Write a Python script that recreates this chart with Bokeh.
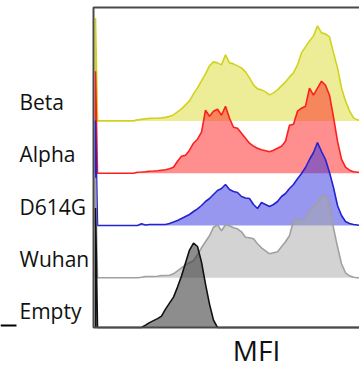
from bokeh.plotting import figure
from bokeh.models import Range1d, Label
from bokeh.embed import file_html
from bokeh.resources import INLINE

# ---- data (histogram heights per MFI bin) ----
samples = ["Beta", "Alpha", "D614G", "Wuhan", "Empty"]

beta = [0, 0, 0, 0, 0, 0, 0, 0, 0, 0,
        1, 1.5, 2, 2.5, 2.7, 2.7, 3, 3.5, 4.5, 6,
        9, 12, 16, 20, 27, 33, 40, 47, 55, 59,
        58, 56, 66, 58, 57, 55, 53, 49, 43, 36,
        32, 31, 29, 26, 28, 31, 35, 39, 44, 48,
        56, 68, 74, 80, 85, 95, 88, 87, 84, 68,
        53, 33, 20, 10, 3, 1, 0.5]

alpha = [0, 0, 0, 0, 0, 0, 0, 0, 0, 0,
         1, 1.2, 1.5, 2, 2.2, 2.5, 3, 3.5, 4.5, 6,
         12, 17, 18, 23, 30, 34, 41, 63, 57, 62,
         64, 58, 67, 55, 46, 45, 40, 35, 30, 27,
         25, 23.5, 22.5, 21.5, 23, 25, 27, 32, 48, 49,
         62, 65, 67, 85, 78, 85, 92, 88, 78, 56,
         32, 14, 6, 3, 1.5, 1, 0.5]

d614g = [0, 0, 0, 0, 0, 0, 0, 0, 0, 0,
         0, 1.7, 0.5, 1, 1, 1, 1, 1, 2, 3.5,
         5, 7, 9, 11, 14, 16.7, 20, 24, 27, 31,
         35, 37, 41, 36, 34, 33, 29, 27.5, 27, 21,
         17, 23, 21, 19, 21, 24, 29, 32, 37, 41,
         46.7, 52, 58, 66, 73, 83, 74, 66, 53, 38,
         20, 10, 4, 2, 1, 0.5, 0]

wuhan = [0, 0, 0, 0, 0, 0, 0, 0, 0, 0,
         0, 0.5, 1.3, 1.3, 1.3, 1.5, 2.3, 2.3, 2.5, 4,
         7, 10, 13, 15, 17, 23, 30, 36, 42, 50.6,
         53, 47, 53, 52, 50, 49, 46, 40.6, 40, 39,
         34, 30, 27, 24, 25, 26, 31, 36, 42, 57,
         59, 57, 60, 66, 71, 75, 81, 82, 72, 50,
         31, 14, 5, 2, 0.5, 0, 0]

empty = [0, 0, 0, 0, 0, 0, 0, 0, 0, 0,
         0, 2.5, 5, 7.5, 9.5, 11.5, 14, 21, 27, 33,
         43, 54, 67, 80, 87, 83.6, 68, 46, 26, 10,
         2.3, 0.5, 0, 0, 0, 0, 0, 0, 0, 0,
         0, 0, 0, 0, 0, 0, 0, 0, 0, 0,
         0, 0, 0, 0, 0, 0, 0, 0, 0, 0,
         0, 0, 0, 0, 0, 0, 0]

# events piled up in the lowest (off-scale) channel
zero_channel = [103, 102, 105, 100, 122]

series = [beta, alpha, d614g, wuhan, empty]
line_colors = ["#D2D21E", "#FF1E1E", "#2323D2", "#A0A0A0", "#111111"]
fill_colors = ["#DCDC30", "#FF2020", "#3030E0", "#A8A8A8", "#303030"]
fill_alphas = [0.5, 0.5, 0.5, 0.5, 0.55]

bins = list(range(len(beta)))
ZERO_BIN = -0.5
ROW_SPACING = 52.3
ROW_BASE = -2.6
X_LO, X_HI = -1, 65.5      # histogram panel extent (MFI bins)
Y_LO, Y_HI = 0, 320        # histogram panel extent

p = figure(width=359, height=368, output_backend="svg", toolbar_location=None,
           x_range=Range1d(-24.25, 65.5), y_range=Range1d(-41, 327),
           x_axis_location=None, y_axis_location=None,
           min_border=0)
p.outline_line_color = None
p.grid.visible = False
p.background_fill_color = "white"
p.border_fill_color = "white"

n = len(samples)
for k, (name, h) in enumerate(zip(samples, series)):
    row = n - 1 - k
    off = ROW_BASE + ROW_SPACING * row
    floor = max(off, Y_LO)
    xs = [ZERO_BIN] + bins
    top = [max(off + zero_channel[k], floor)] + [max(off + v, floor) for v in h]
    p.varea(x=xs, y1=[floor] * len(xs), y2=top,
            fill_color=fill_colors[k], fill_alpha=fill_alphas[k])
    p.line(x=[ZERO_BIN] + xs, y=[floor] + top,
           line_color=line_colors[k], line_width=1.6)
    p.add_layout(Label(x=-19.5, y=off + 19, text=name,
                       text_font="Open Sans", text_font_size="21px",
                       text_color="#111111", text_align="left",
                       text_baseline="alphabetic"))

# panel frame: top, left, bottom edges
p.line(x=[X_HI, X_LO, X_LO, X_HI], y=[Y_HI, Y_HI, Y_LO, Y_LO],
       line_color="#4A4A4A", line_width=2)

# small mark at bottom left
p.line(x=[-24.25, -20.25], y=[2, 2], line_color="black", line_width=2)

p.add_layout(Label(x=39.75, y=-22, text="MFI", text_font="Open Sans",
                   text_font_size="28px", text_color="#111111",
                   text_align="center", text_baseline="alphabetic"))

open("out.html", "w").write(file_html(p, INLINE))
